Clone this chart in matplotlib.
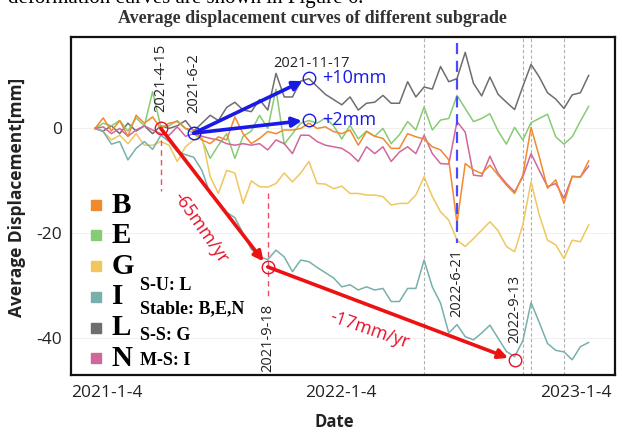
import matplotlib
matplotlib.use("Agg")
import matplotlib.pyplot as plt
import numpy as np

# ---------------- data (acquisition index 0..60) ----------------
B = [0, 2, -0.5, 1.5, -1.5, 2.5, 1, 2.2, 0, 1, 1.3, 0, -0.3, -2.2, -2.9, -1.6, -2.2, 2.2, -1, -2.9,
     -1.9, -0.6, -1, -0.3, -0.3, 0, 1, 0, 0.3, -0.6, -1, -0.3, -3.2, -0.6, -1.5, -1.9, -3.8, -3.8, -1, -1.6,
     -2, -3.5, -4.1, -6, -18, -6.7, -7.9, -8.6, -7.0, -8.9, -10.8, -12.4, -8.9, 0.2, -5.4, -11.4, -9.8, -14.3, -9.1, -9.3,
     -6.2]
E = [0, 1, 0.5, 1.5, -0.5, 2, 0.5, 7, 0.3, 0.5, 1.5, 0, -1, -2.2, -5.7, -3.2, -1, -5.7, -1.5, -0.5,
     2.5, 0, 7.5, -3, -1, 1, 1.5, 1, 2, 0.5, -2, 0.6, -2, -0.5, -1.5, 0, -2.9, -1.2, 1.3, -0.3,
     4.1, -0.3, 1.6, 1.9, 6.3, 3.8, 1.3, 1.9, 2.8, -0.5, -3, 0.2, -2.2, 1.1, 1.9, 2.7, -1.6, -3, -1.6, 1.4,
     4.2]
G = [0, -0.6, -2.2, -1.3, -2.9, -1, -3.2, -3.2, -2.5, -3.2, -6.3, -3.5, -2.2, -1.6, -9.2, -12.4, -8, -8.5, -14.3, -10,
     -11.1, -11.2, -10.5, -8.5, -10.2, -8.5, -6.3, -10.5, -10.6, -11.5, -11, -12.4, -12.4, -12.7, -12.7, -13, -14.6, -14.3, -14.3, -12.7,
     -9.2, -13, -15.9, -17.5, -21.3, -22.5, -21, -19.4, -17.8, -19.5, -22.5, -23.5, -18.4, -10.2, -16.5, -21.3, -22.2, -24.8, -21.3, -21.6,
     -18.4]
I = [0, -0.6, -3, -2.5, -6, -3.8, -2.5, -4, -1.3, -2.5, -4.4, -5, -5.5, -8, -12.5, -14, -16, -17, -20, -23,
     -24.5, -25, -23.2, -24.5, -27.3, -25.1, -25.4, -26.5, -27.5, -28.5, -30.2, -29.8, -30.8, -30.2, -30.8, -30.5, -33, -33, -30.5, -30.5,
     -25.1, -30.2, -33.3, -39, -37.4, -39.7, -40.3, -39, -37.5, -40, -42.5, -43.5, -40.5, -33.2, -37, -41, -42.3, -42.6, -44.1, -41.6,
     -40.8]
L = [0, -0.5, 0.5, -1, 1, -0.5, 0.5, -1, 0.5, 0, 0.5, 1.5, -0.5, 1, 2.5, 1.5, 4, 5, 3.5, 3.2,
     5.5, 3.5, 10.5, 6, 6, 9, 9.5, 8, 6.5, 5.5, 4.5, 6, 3.5, 4.8, 5, 6.3, 4.8, 4.8, 8.9, 6,
     7.9, 7.5, 11.8, 8.9, 9.5, 14.5, 8.6, 6.2, 9.8, 6.5, 5, 3.6, 8, 12.2, 9.8, 6.8, 5.6, 3.8, 6.4, 6.8,
     10.1]
N = [0, 0.3, -1, 0, -1.5, -0.3, 0.5, -0.3, -1, -1.3, 0.3, -1.5, -1, -1.5, -1.9, -2.2, -2.9, -3.2, -2.9, -3.2,
     -2.9, -4.1, -2.2, -2.9, -4.8, -1.3, -1.3, -2.5, -3.2, -3.5, -3.8, -4.8, -6.3, -3.5, -4.8, -3.5, -6.3, -4.5, -3.5, -4.8,
     -1.3, -4.8, -6.7, -6.8, 1.3, -0.7, -8.9, -9.1, -5.3, -8.6, -10.5, -12.1, -9.2, -4.8, -8.0, -11.1, -10.5, -13.3, -9.2, -9.2,
     -7.2]

series_names = ["B", "E", "G", "I", "L", "N"]
series_vals = {"B": B, "E": E, "G": G, "I": I, "L": L, "N": N}
colors = {"B": "#F08A30", "E": "#86CC74", "G": "#EFC75E", "I": "#78B0AC",
          "L": "#6E6E6E", "N": "#D0679A"}
draw_order = ["L", "E", "G", "I", "N", "B"]

tick_labels = ["2021-1-4", "2022-1-4", "2023-1-4"]
tick_pos = [1.4, 29.9, 58.4]

gray_events = [40, 52, 53, 57]
red_points = [(8, 0.0), (21, -26.4), (51, -44.2)]
blue_points = [(12, -0.9), (26, 9.6), (26, 1.6)]

groups = ["S-U: L", "Stable: B,E,N", "S-S: G", "M-S: I"]

# ---------------- figure ----------------
fig = plt.figure(figsize=(6.22, 4.32), dpi=100)
ax = fig.add_axes([0.1137, 0.132, 0.875, 0.782])
x = np.arange(len(B))

ax.set_xlim(-2.95, 63.2)
ax.set_ylim(-47.0, 17.4)

for yv in (0, -20, -40):
    ax.axhline(yv, color="#f0f0f0", lw=0.8, zorder=0)

for ev in gray_events:
    ax.axvline(ev, color="#b0b0b0", lw=0.8, ls=(0, (3, 2)), zorder=1)

for name in draw_order:
    ax.plot(x, series_vals[name], color=colors[name], lw=1.1, zorder=2)

# dashed event markers
red_dash = "#f04a66"
ax.plot([8, 8], [-2.3, -11.9], color=red_dash, lw=1.0, ls=(0, (4, 3)), zorder=3)
ax.plot([21, 21], [-12.4, -32.5], color=red_dash, lw=1.0, ls=(0, (4, 3)), zorder=3)
ax.plot([44, 44], [16.3, -21.8], color="#4a4aff", lw=1.6, ls=(0, (5, 3)), zorder=3)

# arrows
blue = "#1a1ae6"
red = "#ee1111"
for (x1, y1) in blue_points[1:]:
    ax.annotate("", xy=(x1, y1), xytext=blue_points[0],
                arrowprops=dict(arrowstyle="-|>", color=blue, lw=2.6,
                                mutation_scale=14, shrinkA=0, shrinkB=5), zorder=4)
for (p0, p1) in zip(red_points[:-1], red_points[1:]):
    ax.annotate("", xy=p1, xytext=p0,
                arrowprops=dict(arrowstyle="-|>", color=red, lw=2.6,
                                mutation_scale=14, shrinkA=0, shrinkB=5), zorder=4)

for (px, py) in red_points:
    ax.plot(px, py, "o", ms=9, mfc="none", mec="#e8102a", mew=1.0, zorder=5)
for (px, py) in blue_points:
    ax.plot(px, py, "o", ms=9, mfc="none", mec=blue, mew=1.0, zorder=5)

# annotations
sans = ["Open Sans", "DejaVu Sans"]
dcol = "#222222"
ax.text(8, 3.1, "2021-4-15", rotation=90, ha="center", va="bottom", fontsize=10.5, family=sans, color=dcol)
ax.text(12, 2.9, "2021-6-2", rotation=90, ha="center", va="bottom", fontsize=10.5, family=sans, color=dcol)
ax.text(26.3, 12.4, "2021-11-17", ha="center", va="center", fontsize=10.5, family=sans, color=dcol)
ax.text(21, -39.9, "2021-9-18", rotation=90, ha="center", va="center", fontsize=10.5, family=sans, color=dcol)
ax.text(44, -29.5, "2022-6-21", rotation=90, ha="center", va="center", fontsize=10.5, family=sans, color=dcol)
ax.text(51, -34.4, "2022-9-13", rotation=90, ha="center", va="center", fontsize=10.5, family=sans, color=dcol)

ax.text(27.6, 9.6, "+10mm", ha="left", va="center", fontsize=13, family=sans, color=blue)
ax.text(27.6, 1.6, "+2mm", ha="left", va="center", fontsize=13, family=sans, color=blue)
ax.text(12.8, -18.9, "-65mm/yr", rotation=-55, ha="center", va="center", fontsize=13, family=sans, color="#e8102a")
ax.text(33.4, -38.4, "-17mm/yr", rotation=-19, ha="center", va="center", fontsize=13, family=sans, color="#e8102a")

# custom legend
serif = ["Liberation Serif", "DejaVu Serif"]
rows_y = [0.503, 0.413, 0.322, 0.231, 0.140, 0.049]
for name, ry in zip(series_names, rows_y):
    ax.plot([0.047], [ry], "s", ms=6.5, color=colors[name], transform=ax.transAxes, clip_on=False, zorder=6)
    ax.text(0.075, ry, name, transform=ax.transAxes, ha="left", va="center",
            fontsize=21, fontweight="bold", family=serif, color="black", zorder=6)
grp_y = [0.266, 0.195, 0.118, 0.044]
for g, gy in zip(groups, grp_y):
    ax.text(0.127, gy, g, transform=ax.transAxes, ha="left", va="center",
            fontsize=13, fontweight="bold", family=serif, color="black", zorder=6)

# axes styling
ax.set_xticks(tick_pos)
ax.set_xticklabels(tick_labels)
ax.set_yticks([0, -20, -40])
ax.set_yticklabels(["0", "-20", "-40"])
ax.tick_params(axis="both", length=0, labelsize=12.5, colors="#222222")
ax.tick_params(axis="x", pad=7)
ax.tick_params(axis="y", pad=6)
for lab in ax.get_xticklabels() + ax.get_yticklabels():
    lab.set_family(sans)
for sp in ax.spines.values():
    sp.set_linewidth(1.6)
    sp.set_color("#111111")

ax.set_ylabel("Average Displacement[mm]", fontsize=12.5, fontweight="bold", family=sans, color="#222222")
ax.yaxis.set_label_coords(-0.082, 0.527)
fig.text(0.537, 0.022, "Date", ha="center", va="center", fontsize=12, fontweight="bold", family=sans, color="#222222")

fig.text(0.502, 0.958, "Average displacement curves of different subgrade", ha="center", va="center",
         fontsize=13, fontweight="bold", family=serif, color="#333333")
fig.text(0.013, (432 - 3.5) / 432, "deformation curves are shown in Figure 6.", ha="left", va="baseline",
         fontsize=15, family=serif, color="black")

fig.savefig("out.png", dpi=100)
